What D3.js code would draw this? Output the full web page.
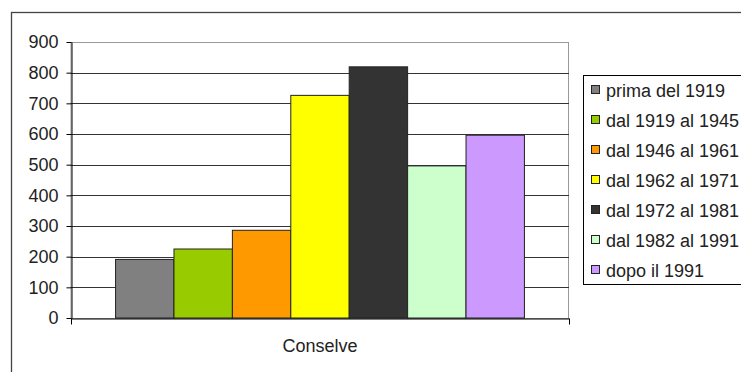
<!DOCTYPE html>
<html>
<head>
<meta charset="utf-8">
<script src="https://cdn.jsdelivr.net/npm/d3@7/dist/d3.min.js"></script>
<style>
  html, body { margin: 0; padding: 0; background: #fff; }
  svg { display: block; }
  text { font-family: "Liberation Sans", Arial, sans-serif; fill: #222; }
</style>
</head>
<body>
<svg id="chart" width="741" height="372"></svg>
<script>
const categories = ["Conselve"];
const seriesNames = ["prima del 1919", "dal 1919 al 1945", "dal 1946 al 1961", "dal 1962 al 1971", "dal 1972 al 1981", "dal 1982 al 1991", "dopo il 1991"];
const seriesValues = [191, 225, 286, 726, 819, 496, 596];
const seriesColors = ["#808080", "#99cc00", "#ff9900", "#ffff00", "#333333", "#ccffcc", "#cc99ff"];
const yTicks = [0, 100, 200, 300, 400, 500, 600, 700, 800, 900];

const svg = d3.select("#chart");
const FS = 18;

// outer frame
svg.append("rect").attr("x", 11.5).attr("y", 12.5).attr("width", 800).attr("height", 400)
  .attr("fill", "#fff").attr("stroke", "#444").attr("stroke-width", 1.3);

const plot = {left: 71, right: 569, top: 42, bottom: 318};

const y = d3.scaleLinear().domain([0, 900]).range([plot.bottom, plot.top]);
const x0 = d3.scaleBand().domain(categories).range([plot.left, plot.right]).paddingInner(0).paddingOuter(0.109);
const x1 = d3.scaleBand().domain(seriesNames).range([0, x0.bandwidth()]).padding(0);

// plot border (grey top/right)
svg.append("rect").attr("x", plot.left).attr("y", plot.top + 0.5)
  .attr("width", plot.right - plot.left - 0.5).attr("height", plot.bottom - plot.top)
  .attr("fill", "none").attr("stroke", "#999").attr("stroke-width", 1);

// gridlines
svg.append("g").selectAll("line").data(yTicks.filter(d => d > 0 && d < 900)).join("line")
  .attr("x1", plot.left).attr("x2", plot.right)
  .attr("y1", d => Math.round(y(d)) + 0.5).attr("y2", d => Math.round(y(d)) + 0.5)
  .attr("stroke", "#333").attr("stroke-width", 1);

// bars
const groups = svg.append("g").selectAll("g").data(categories).join("g")
  .attr("transform", d => `translate(${x0(d)},0)`);
groups.selectAll("rect").data(() => seriesNames.map((s, i) => ({s, v: seriesValues[i], c: seriesColors[i]})))
  .join("rect")
  .attr("x", d => x1(d.s))
  .attr("y", d => y(d.v))
  .attr("width", x1.bandwidth())
  .attr("height", d => plot.bottom - y(d.v))
  .attr("fill", d => d.c)
  .attr("stroke", "#222").attr("stroke-width", 1);

// y axis
const yAxis = d3.axisLeft(y).tickValues(yTicks).tickSize(5).tickPadding(8).tickSizeOuter(0);
const gy = svg.append("g").attr("transform", `translate(${plot.left + 0.5},0)`).call(yAxis);
gy.select(".domain").attr("stroke", "#000");
gy.selectAll(".tick line").attr("stroke", "#000");
gy.selectAll(".tick text").attr("font-size", FS).style("font-family", "'Liberation Sans', Arial, sans-serif").attr("fill", "#222");

// x axis
const xAxis = d3.axisBottom(d3.scaleLinear().domain([0, 1]).range([plot.left, plot.right]))
  .tickValues([0, 1]).tickSize(6).tickFormat("").tickSizeOuter(0);
const gx = svg.append("g").attr("transform", `translate(0,${plot.bottom + 0.5})`).call(xAxis);
gx.select(".domain").attr("stroke", "#000");
gx.selectAll(".tick line").attr("stroke", "#000");

svg.append("text").attr("x", x0(categories[0]) + x0.bandwidth() / 2).attr("y", 352)
  .attr("text-anchor", "middle").attr("font-size", FS).text(categories[0]);

// legend
const lg = svg.append("g");
lg.append("rect").attr("x", 583.5).attr("y", 75.5).attr("width", 200).attr("height", 209)
  .attr("fill", "#fff").attr("stroke", "#000").attr("stroke-width", 1);
const items = lg.selectAll("g.item").data(seriesNames).join("g").attr("class", "item")
  .attr("transform", (d, i) => `translate(0,${90 + i * 30})`);
items.append("rect").attr("x", 591.5).attr("y", -4.5).attr("width", 8).attr("height", 8)
  .attr("fill", (d, i) => seriesColors[i]).attr("stroke", "#222").attr("stroke-width", 1);
items.append("text").attr("x", 606).attr("y", 6.5).attr("font-size", FS).text(d => d);
</script>
</body>
</html>
